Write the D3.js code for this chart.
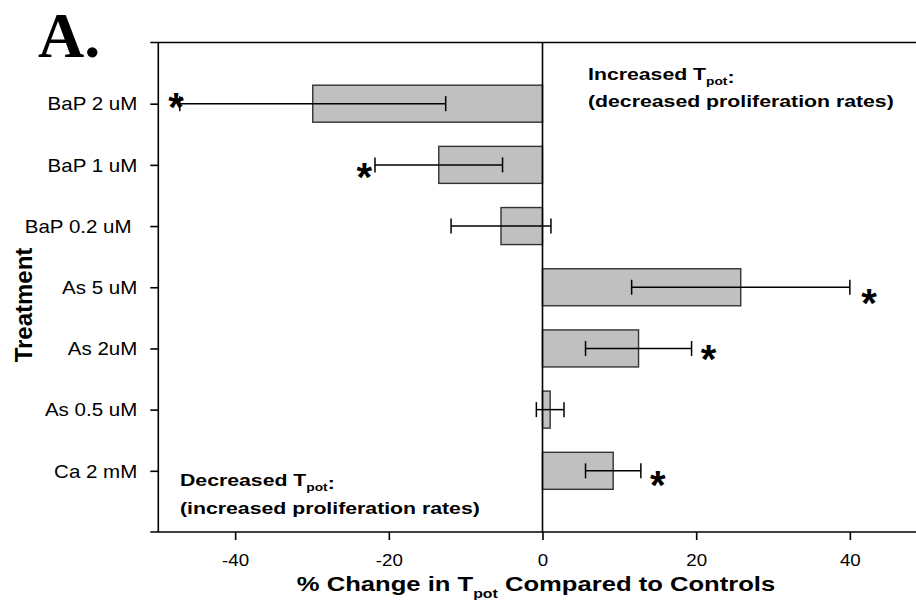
<!DOCTYPE html>
<html>
<head>
<meta charset="utf-8">
<script src="https://cdn.jsdelivr.net/npm/d3@7"></script>
<style>
  html, body { margin: 0; padding: 0; background: #fff; }
  svg { display: block; }
  text { fill: #000; }
</style>
</head>
<body>
<svg id="chart" width="916" height="600"></svg>
<script>
// Treatment groups, top to bottom
const categories = ["BaP 2 uM", "BaP 1 uM", "BaP 0.2 uM ", "As 5 uM", "As 2uM", "As 0.5 uM", "Ca 2 mM"];
// Mean % change in Tpot versus controls, and error half-widths
const meanChange = [-29.9, -13.5, -5.4, 25.8, 12.5, 1.0, 9.2];
const errChange  = [17.3, 8.3, 6.5, 14.2, 6.9, 1.8, 3.6];
// Axis ticks
const xTicks = [-40, -20, 0, 20, 40];
const xDomain = [-50, 50];
// Significance markers: group, x position (in % change units), vertical nudge (fraction of row step)
const sigGroups = ["BaP 2 uM", "BaP 1 uM", "As 5 uM", "As 2uM", "Ca 2 mM"];
const sigX      = [-47.7, -23.2, 42.5, 21.6, 15.0];
const sigNudge  = [-0.01, 0.125, 0.19, 0.11, 0.16];

const SANS = '"Liberation Sans", Arial, Helvetica, sans-serif';
const SERIF = '"Liberation Serif", "Times New Roman", serif';

const rows = categories.map((c, i) => ({ c, v: meanChange[i], e: errChange[i] }));
const sig = sigGroups.map((c, i) => ({ c, x: sigX[i], n: sigNudge[i] }));

const svg = d3.select("#chart");
const plot = { left: 158.3, right: 926.7, top: 42.5, bottom: 532 };

const x = d3.scaleLinear().domain(xDomain).range([plot.left, plot.right]);
const y = d3.scalePoint().domain(categories).range([plot.top, plot.bottom]).padding(1);
const barH = y.step() * 0.605;

const ink = "#000";
const lw = 1.6;

// Bars
svg.append("g").selectAll("rect").data(rows).join("rect")
  .attr("x", d => x(Math.min(0, d.v)))
  .attr("width", d => Math.abs(x(d.v) - x(0)))
  .attr("y", d => y(d.c) - barH / 2)
  .attr("height", barH)
  .attr("fill", "#c0c0c0")
  .attr("stroke", "#333")
  .attr("stroke-width", 1.4);

// Zero reference line
svg.append("line")
  .attr("x1", x(0)).attr("x2", x(0))
  .attr("y1", plot.top).attr("y2", plot.bottom)
  .attr("stroke", ink).attr("stroke-width", lw);

// Error bars
const eb = svg.append("g").attr("stroke", ink).attr("stroke-width", 1.5).attr("fill", "none");
const capH = 7.5;
rows.forEach(d => {
  const yy = y(d.c);
  eb.append("line").attr("x1", x(d.v - d.e)).attr("x2", x(d.v + d.e)).attr("y1", yy).attr("y2", yy);
  [d.v - d.e, d.v + d.e].forEach(v => {
    eb.append("line").attr("x1", x(v)).attr("x2", x(v)).attr("y1", yy - capH).attr("y2", yy + capH);
  });
});

// Frame lines
const frame = svg.append("g").attr("stroke", ink).attr("stroke-width", lw);
frame.append("line").attr("x1", plot.left - 8).attr("x2", 916).attr("y1", plot.top).attr("y2", plot.top);
frame.append("line").attr("x1", plot.left).attr("x2", plot.left).attr("y1", plot.top).attr("y2", plot.bottom);
frame.append("line").attr("x1", plot.left - 8).attr("x2", 916).attr("y1", plot.bottom).attr("y2", plot.bottom);

// X axis
const xAxis = svg.append("g")
  .attr("transform", `translate(0,${plot.bottom})`)
  .call(d3.axisBottom(x).tickValues(xTicks).tickSize(8).tickFormat(d => String(d)));
xAxis.select(".domain").remove();
xAxis.selectAll(".tick line").attr("stroke", ink).attr("stroke-width", lw);
xAxis.selectAll(".tick text")
  .attr("y", 0).attr("dy", null)
  .attr("transform", "translate(0,34) scale(1.17,1)")
  .attr("font-size", 16)
  .style("font-family", SANS)
  .attr("fill", ink);

// Y axis
const yAxis = svg.append("g")
  .attr("transform", `translate(${plot.left},0)`)
  .call(d3.axisLeft(y).tickSize(8));
yAxis.select(".domain").remove();
yAxis.selectAll(".tick line").attr("stroke", ink).attr("stroke-width", lw);
yAxis.selectAll(".tick text")
  .attr("x", 0).attr("dy", null)
  .attr("transform", "translate(-21,6.3) scale(1.14,1)")
  .attr("text-anchor", "end")
  .attr("font-size", 18)
  .style("font-family", SANS)
  .attr("fill", ink)
  .style("white-space", "pre");

// Significance asterisks
const starSize = 40;
svg.append("g").selectAll("text").data(sig).join("text")
  .attr("x", d => x(d.x))
  .attr("y", d => y(d.c) + d.n * y.step() + starSize * 0.45)
  .attr("text-anchor", "middle")
  .attr("font-size", starSize)
  .attr("font-weight", "bold")
  .style("font-family", SANS)
  .text("*");

// Two-line annotation with a subscripted "pot"
function annotation(tx, ty, lead, second) {
  const g = svg.append("g").attr("transform", `translate(${tx},${ty}) scale(1.25,1)`)
    .style("font-family", SANS).attr("font-weight", "bold");
  const t = g.append("text").attr("font-size", 17).style("font-family", SANS);
  t.append("tspan").text(lead);
  t.append("tspan").attr("font-size", 11).attr("dy", 5).text("pot");
  t.append("tspan").attr("dy", -2).text(":");
  g.append("text").attr("y", 28).attr("font-size", 17).style("font-family", SANS).text(second);
}
annotation(588, 79.5, "Increased T", "(decreased proliferation rates)");
annotation(180, 485.7, "Decreased T", "(increased proliferation rates)");

// X axis title
const xt = svg.append("g").attr("transform", "translate(536,590.7) scale(1.22,1)")
  .append("text").attr("text-anchor", "middle").attr("font-size", 21).attr("font-weight", "bold")
  .style("font-family", SANS);
xt.append("tspan").text("% Change in T");
xt.append("tspan").attr("font-size", 13).attr("dy", 7).text("pot");
xt.append("tspan").attr("dy", -7).text(" Compared to Controls");

// Y axis title
svg.append("text")
  .attr("transform", "translate(32,305) rotate(-90)")
  .attr("text-anchor", "middle")
  .attr("font-size", 24)
  .attr("font-weight", "bold")
  .style("font-family", SANS)
  .text("Treatment");

// Panel letter
svg.append("text")
  .attr("x", 38).attr("y", 57)
  .attr("font-size", 64)
  .attr("font-weight", "bold")
  .style("font-family", SERIF)
  .text("A.");
</script>
</body>
</html>
